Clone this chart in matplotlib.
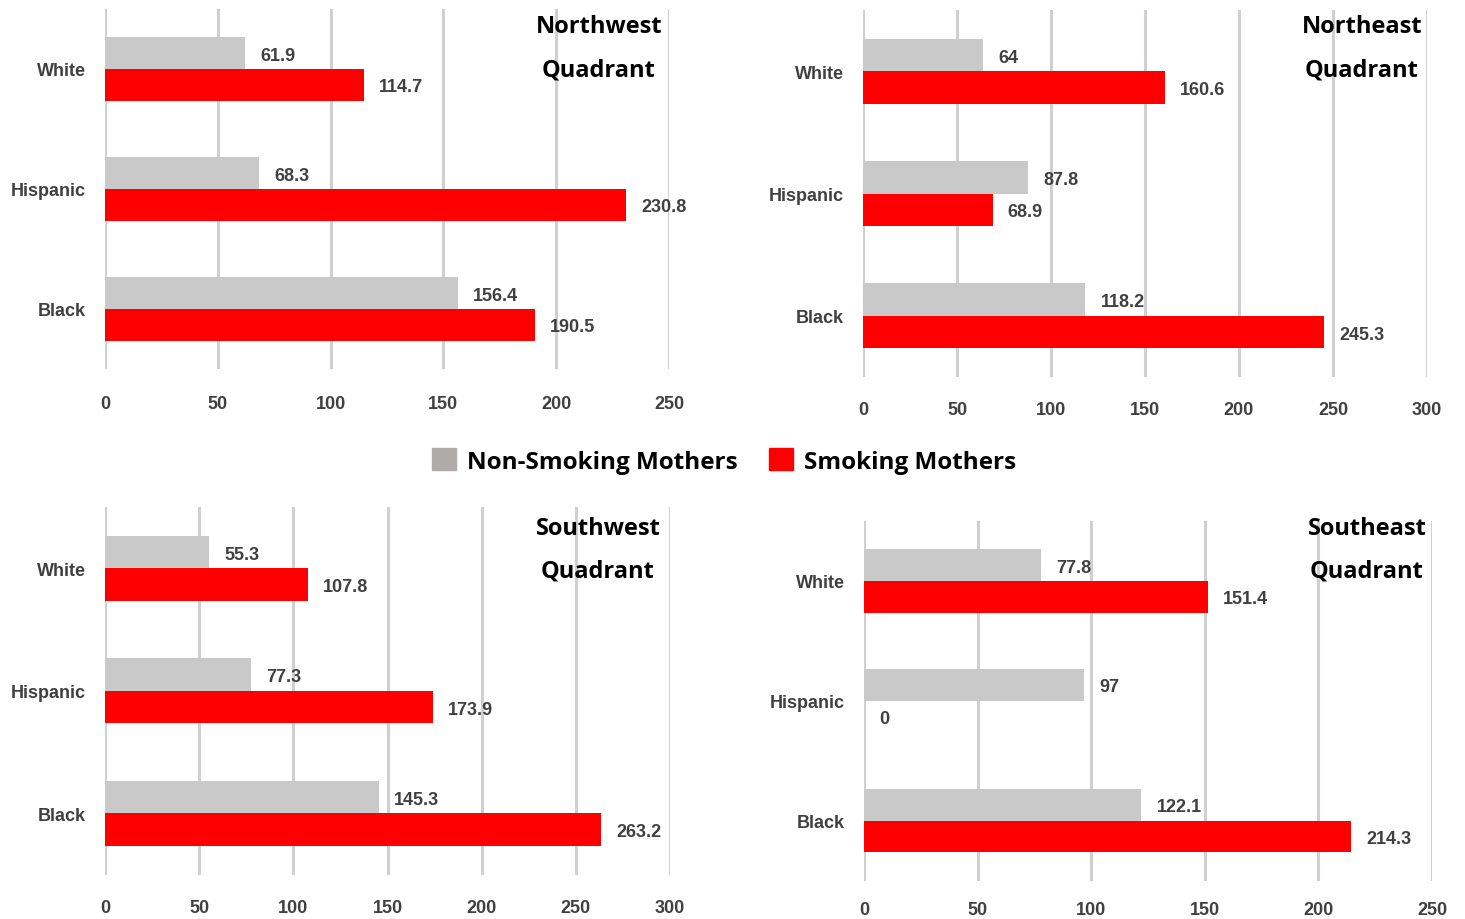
import matplotlib.pyplot as plt
import numpy as np
from matplotlib.patches import Patch

# data
groups = ['White', 'Hispanic', 'Black']
regions = ['Northwest', 'Northeast', 'Southwest', 'Southeast']
nonsmoking_nw = [61.9, 68.3, 156.4]
smoking_nw = [114.7, 230.8, 190.5]
nonsmoking_ne = [64, 87.8, 118.2]
smoking_ne = [160.6, 68.9, 245.3]
nonsmoking_sw = [55.3, 77.3, 145.3]
smoking_sw = [107.8, 173.9, 263.2]
nonsmoking_se = [77.8, 97, 122.1]
smoking_se = [151.4, 0, 214.3]
xmax = [250, 300, 300, 250]

GRAY = '#c9c9c9'
RED = '#ff0000'
TXT = '#404040'
SMALL = ['Liberation Sans', 'DejaVu Sans']
WIDE = ['Open Sans', 'DejaVu Sans']

fig = plt.figure(figsize=(14.65, 9.2), dpi=100)

# axes rectangles (left, bottom, width, height) in figure fraction
rects = [
    [105/1465, 1-370/920, 564/1465, 360/920],
    [863/1465, 1-378/920, 564/1465, 367/920],
    [105/1465, 1-875.5/920, 565/1465, 367.5/920],
    [864/1465, 1-881.5/920, 568/1465, 359.5/920],
]
xpads = [19, 17, 18, 15]
# title centres in pixels
title_pos = [(599, 27), (1362, 27), (598, 529), (1367, 529)]

series = [(nonsmoking_nw, smoking_nw), (nonsmoking_ne, smoking_ne),
          (nonsmoking_sw, smoking_sw), (nonsmoking_se, smoking_se)]

h = 0.265
y = np.arange(len(groups))

for i, (ns, sm) in enumerate(series):
    ax = fig.add_axes(rects[i])
    ax.barh(y - h/2, ns, height=h, color=GRAY, zorder=3)
    ax.barh(y + h/2, sm, height=h, color=RED, zorder=3)

    for yy, v in list(zip(y - h/2, ns)) + list(zip(y + h/2, sm)):
        ax.annotate('{:g}'.format(v), (v, yy), xytext=(11, -1.5), textcoords='offset points',
                    va='center', ha='left', fontsize=13, fontweight='bold', color=TXT, family=SMALL)

    ax.set_xlim(0, xmax[i])
    ax.set_ylim(2.5, -0.5)
    ax.set_xticks(np.arange(0, xmax[i] + 1, 50))
    ax.set_yticks(y)
    ax.set_yticklabels(groups)
    ax.grid(axis='x', color='#d0d0d0', linewidth=2.2, zorder=0)
    for s in ax.spines.values():
        s.set_visible(False)
    ax.tick_params(axis='both', length=0, colors=TXT)
    ax.tick_params(axis='x', pad=xpads[i])
    ax.tick_params(axis='y', pad=14)
    for lab in ax.get_xticklabels() + ax.get_yticklabels():
        lab.set_fontsize(13)
        lab.set_fontweight('bold')
        lab.set_family(SMALL)

    tx, ty = title_pos[i]
    fig.text(tx/1465, 1-ty/920, regions[i], ha='center', va='center',
             fontsize=17, fontweight='bold', color='black', family=WIDE)
    fig.text(tx/1465, 1-(ty+43)/920, 'Quadrant', ha='center', va='center',
             fontsize=17, fontweight='bold', color='black', family=WIDE)

handles = [Patch(color='#afabab'), Patch(color=RED)]
fig.legend(handles, ['Non-Smoking Mothers', 'Smoking Mothers'], loc='center',
           bbox_to_anchor=(724/1465, 1-462/920), ncol=2, frameon=False,
           prop={'family': WIDE, 'weight': 'bold', 'size': 17.5},
           handlelength=1.0, handleheight=1.0, handletextpad=0.45, columnspacing=1.3)

fig.savefig('out.png', dpi=100)
